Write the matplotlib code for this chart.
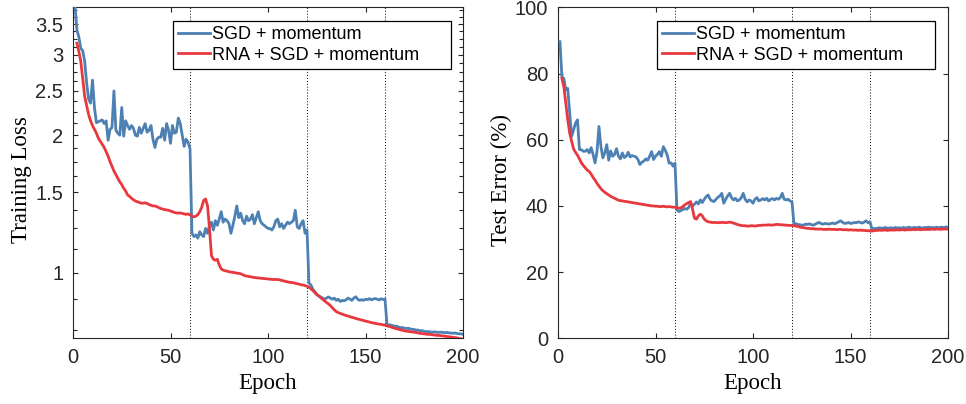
import matplotlib
matplotlib.use("Agg")
import matplotlib.pyplot as plt
from matplotlib.ticker import FixedLocator, NullFormatter, FixedFormatter

# ---------------- data ----------------
epochs_sgd = list(range(1, 201))
epochs_rna = list(range(2, 201))

train_loss_sgd = [
    3.85, 3.40, 3.28, 3.10, 3.06, 2.90, 2.60, 2.40, 2.35, 2.64,
    2.30, 2.13, 2.14, 2.15, 2.16, 2.12, 2.15, 1.95, 2.06, 2.08,
    2.50, 2.05, 2.02, 2.00, 2.30, 1.99, 2.15, 2.10, 2.06, 2.10,
    2.07, 2.00, 1.99, 2.08, 2.02, 2.07, 2.12, 2.03, 2.05, 2.10,
    1.96, 1.88, 1.96, 1.98, 1.98, 2.07, 1.95, 2.12, 2.05, 1.92,
    2.10, 2.02, 2.03, 2.18, 2.12, 2.00, 1.89, 1.96, 1.93, 1.87,
    1.22, 1.20, 1.21, 1.19, 1.23, 1.21, 1.20, 1.25, 1.22, 1.27,
    1.29, 1.24, 1.30, 1.27, 1.31, 1.36, 1.29, 1.31, 1.30, 1.28,
    1.22, 1.27, 1.33, 1.40, 1.32, 1.35, 1.30, 1.28, 1.33, 1.30,
    1.31, 1.34, 1.28, 1.32, 1.36, 1.30, 1.28, 1.27, 1.26, 1.25,
    1.25, 1.24, 1.26, 1.30, 1.31, 1.26, 1.28, 1.25, 1.27, 1.29,
    1.28, 1.29, 1.30, 1.37, 1.26, 1.25, 1.28, 1.30, 1.22, 1.24,
    0.950, 0.940, 0.920, 0.910, 0.895, 0.890, 0.885, 0.880, 0.875, 0.880,
    0.885, 0.880, 0.875, 0.880, 0.870, 0.875, 0.865, 0.870, 0.868, 0.872,
    0.880, 0.876, 0.870, 0.880, 0.886, 0.875, 0.870, 0.873, 0.870, 0.875,
    0.873, 0.878, 0.872, 0.876, 0.878, 0.875, 0.872, 0.877, 0.874, 0.876,
    0.771, 0.769, 0.768, 0.766, 0.763, 0.764, 0.760, 0.758, 0.759, 0.756,
    0.755, 0.756, 0.753, 0.752, 0.751, 0.749, 0.749, 0.746, 0.747, 0.744,
    0.743, 0.744, 0.742, 0.741, 0.742, 0.742, 0.740, 0.741, 0.741, 0.740,
    0.739, 0.740, 0.738, 0.738, 0.737, 0.738, 0.736, 0.735, 0.735, 0.733,
]

train_loss_rna = [
    3.18, 3.05, 2.90, 2.65, 2.43, 2.32, 2.22, 2.15, 2.10,
    2.06, 2.02, 1.97, 1.94, 1.91, 1.88, 1.84, 1.80, 1.75, 1.71,
    1.67, 1.64, 1.61, 1.58, 1.56, 1.53, 1.51, 1.48, 1.47, 1.455,
    1.445, 1.435, 1.43, 1.425, 1.42, 1.42, 1.422, 1.418, 1.41, 1.405,
    1.40, 1.40, 1.395, 1.388, 1.382, 1.378, 1.375, 1.372, 1.37, 1.365,
    1.36, 1.355, 1.352, 1.35, 1.352, 1.348, 1.345, 1.342, 1.345, 1.338,
    1.33, 1.325, 1.33, 1.34, 1.36, 1.39, 1.44, 1.45, 1.40, 1.25,
    1.09, 1.07, 1.065, 1.07, 1.04, 1.02, 1.013, 1.01, 1.008, 1.005,
    1.003, 1.002, 1.0, 0.998, 0.997, 0.995, 0.99, 0.986, 0.983, 0.982,
    0.98, 0.978, 0.976, 0.975, 0.974, 0.973, 0.972, 0.971, 0.970, 0.969,
    0.968, 0.967, 0.966, 0.967, 0.966, 0.965, 0.962, 0.960, 0.957, 0.955,
    0.953, 0.952, 0.951, 0.948, 0.946, 0.944, 0.941, 0.94, 0.937, 0.934,
    0.93, 0.922, 0.914, 0.905, 0.897, 0.89, 0.882, 0.875, 0.868, 0.861,
    0.855, 0.847, 0.838, 0.83, 0.822, 0.818, 0.815, 0.812, 0.809, 0.806,
    0.804, 0.801, 0.799, 0.797, 0.794, 0.792, 0.79, 0.788, 0.786, 0.784,
    0.782, 0.78, 0.778, 0.776, 0.775, 0.773, 0.772, 0.771, 0.769, 0.768,
    0.765, 0.763, 0.761, 0.758, 0.756, 0.754, 0.752, 0.75, 0.748, 0.746,
    0.745, 0.744, 0.743, 0.742, 0.741, 0.74, 0.738, 0.737, 0.736, 0.735,
    0.734, 0.733, 0.733, 0.732, 0.731, 0.73, 0.729, 0.729, 0.728, 0.727,
    0.726, 0.725, 0.724, 0.723, 0.722, 0.721, 0.72, 0.718, 0.717, 0.715,
]

test_err_sgd = [
    89.6, 79.0, 78.5, 75.0, 75.5, 68.0, 61.0, 63.0, 65.0, 66.0,
    57.0, 57.0, 56.5, 56.5, 57.0, 56.0, 57.6, 55.5, 53.0, 56.4,
    64.0, 58.0, 54.5, 56.0, 58.5, 53.8, 56.6, 55.0, 55.5, 57.3,
    55.0, 54.2, 56.0, 54.6, 55.0, 56.2, 54.8, 55.2, 55.0, 54.8,
    54.0, 52.5, 53.2, 53.5, 54.2, 53.8, 55.0, 56.4, 54.0, 55.0,
    55.6, 56.4, 55.0, 57.9, 56.8, 55.4, 52.9, 53.0, 52.0, 52.9,
    38.8, 38.3, 38.6, 38.9, 39.2, 39.0, 39.5, 40.8, 40.0, 40.5,
    41.2, 40.6, 41.8, 41.0, 42.0, 42.8, 43.3, 42.0, 41.5, 41.3,
    42.0, 42.6, 43.0, 43.8, 40.8, 42.0, 43.0, 43.8, 42.5, 41.8,
    42.3, 41.5, 41.8, 42.5, 43.8, 42.0, 41.2, 41.8, 41.5, 40.8,
    42.0, 42.5, 41.5, 41.8, 42.2, 41.8, 42.3, 41.5, 42.0, 42.2,
    41.8, 42.3, 42.0, 42.5, 43.8, 42.0, 41.8, 42.0, 41.5, 41.2,
    34.6, 34.6, 34.4, 34.3, 34.2, 34.2, 34.5, 34.4, 34.6, 34.3,
    34.2, 34.5, 34.8, 35.0, 34.6, 34.5, 34.7, 34.6, 34.5, 34.7,
    34.8, 34.6, 34.9, 35.2, 35.5, 35.0, 34.7, 34.8, 35.0, 34.7,
    34.8, 35.0, 34.9, 35.2, 35.0, 34.8, 35.1, 35.5, 34.9, 35.2,
    33.0, 33.2, 33.1, 33.3, 33.4, 33.2, 33.3, 33.5, 33.2, 33.3,
    33.4, 33.2, 33.5, 33.3, 33.4, 33.2, 33.5, 33.3, 33.4, 33.6,
    33.3, 33.4, 33.5, 33.3, 33.6, 33.4, 33.3, 33.5, 33.4, 33.6,
    33.4, 33.5, 33.3, 33.6, 33.4, 33.5, 33.6, 33.4, 33.7, 33.5,
]

test_err_rna = [
    78.5, 76.0, 71.0, 66.0, 62.0, 59.5, 57.2, 56.2, 55.3,
    54.2, 53.0, 52.2, 51.5, 50.8, 50.4, 49.6, 48.6, 47.8, 46.8,
    46.0, 45.2, 44.6, 44.1, 43.7, 43.3, 42.9, 42.6, 42.3, 42.0,
    41.7, 41.6, 41.5, 41.4, 41.3, 41.2, 41.1, 41.0, 40.9, 40.8,
    40.7, 40.6, 40.5, 40.4, 40.3, 40.2, 40.1, 40.0, 40.0, 39.9,
    39.9, 39.8, 39.8, 39.9, 39.8, 39.7, 39.8, 39.7, 39.6, 39.6,
    39.5, 39.3, 39.4, 39.8, 40.3, 40.7, 41.0, 41.3, 39.0, 36.3,
    36.0, 37.0, 37.5, 37.0, 36.0, 35.5, 35.2, 35.1, 35.0, 35.0,
    35.0, 34.9, 35.0, 35.0, 35.0, 34.9, 35.0, 35.1, 35.0, 34.8,
    34.6, 34.4, 34.2, 34.1, 34.0, 34.0, 33.9, 33.9, 34.0, 34.0,
    33.9, 34.0, 34.1, 34.1, 34.2, 34.2, 34.2, 34.3, 34.2, 34.2,
    34.3, 34.4, 34.4, 34.3, 34.3, 34.2, 34.2, 34.1, 34.1, 34.1,
    34.0, 33.9, 33.8, 33.6, 33.5, 33.4, 33.3, 33.2, 33.2, 33.1,
    33.1, 33.0, 33.0, 33.0, 33.0, 32.9, 32.9, 32.9, 33.0, 32.9,
    32.9, 32.9, 32.8, 32.9, 32.9, 32.8, 32.8, 32.8, 32.7, 32.8,
    32.7, 32.7, 32.7, 32.6, 32.7, 32.6, 32.6, 32.5, 32.5, 32.5,
    32.4, 32.5, 32.6, 32.6, 32.7, 32.6, 32.7, 32.7, 32.6, 32.7,
    32.7, 32.7, 32.7, 32.8, 32.7, 32.8, 32.8, 32.7, 32.8, 32.8,
    32.8, 32.9, 32.8, 32.9, 32.9, 32.8, 32.9, 32.9, 32.9, 32.9,
    32.9, 33.0, 32.9, 33.0, 33.0, 32.9, 33.0, 33.0, 33.0, 33.0,
]

labels = ["SGD + momentum", "RNA + SGD + momentum"]
lr_drops = [60, 120, 160]
loss_ticks = [1, 1.5, 2, 2.5, 3, 3.5]
loss_tick_labels = ["1", "1.5", "2", "2.5", "3", "3.5"]
err_ticks = [0, 20, 40, 60, 80, 100]
epoch_ticks = [0, 50, 100, 150, 200]

# ---------------- styling ----------------
BLUE = "#4d80b3"
RED = "#e8383d"
AX_COL = "#262626"
SANS = ["Liberation Sans", "DejaVu Sans"]
SERIF = ["Liberation Serif", "DejaVu Serif"]

plt.rcParams["font.family"] = SANS

fig = plt.figure(figsize=(9.66, 4.04), dpi=100)
W, H = 966.0, 404.0
ax1 = fig.add_axes([73 / W, (H - 338.3) / H, 390 / W, 331 / H])
ax2 = fig.add_axes([558 / W, (H - 338.3) / H, 390 / W, 331 / H])


def style_axes(ax):
    for s in ax.spines.values():
        s.set_color(AX_COL)
        s.set_linewidth(0.8)
    ax.tick_params(which="both", direction="in", top=True, right=True,
                   color=AX_COL, labelcolor=AX_COL, labelsize=14.5,
                   width=0.8, pad=7)
    ax.tick_params(which="major", length=3.5)
    ax.tick_params(which="minor", length=3.0)
    ax.set_xlim(0, 200)
    ax.set_xticks(epoch_ticks)
    ax.set_xticklabels([str(t) for t in epoch_ticks])
    for x in lr_drops:
        ax.axvline(x, color="black", linestyle=(0, (1, 2)), linewidth=0.7, zorder=1)
    ax.set_xlabel("Epoch", family=SERIF, fontsize=16.5, labelpad=4.5, color="black")


# Left: training loss (log scale)
ax1.plot(epochs_sgd, train_loss_sgd, color=BLUE, lw=2.0, label=labels[0], zorder=3)
ax1.plot(epochs_rna, train_loss_rna, color=RED, lw=2.0, label=labels[1], zorder=3)
ax1.set_yscale("log")
ax1.set_ylim(0.7186, 3.81)
style_axes(ax1)
ax1.yaxis.set_major_locator(FixedLocator(loss_ticks))
ax1.yaxis.set_major_formatter(FixedFormatter(loss_tick_labels))
minor = [0.75 + 0.125 * i for i in range(25)]
minor = [m for m in minor if all(abs(m - t) > 1e-6 for t in loss_ticks)]
ax1.yaxis.set_minor_locator(FixedLocator(minor))
ax1.yaxis.set_minor_formatter(NullFormatter())
ax1.set_ylabel("Training Loss", family=SERIF, fontsize=16.5, labelpad=2, color="black")

# Right: test error
ax2.plot(epochs_sgd, test_err_sgd, color=BLUE, lw=2.0, label=labels[0], zorder=3)
ax2.plot(epochs_rna, test_err_rna, color=RED, lw=2.0, label=labels[1], zorder=3)
ax2.set_ylim(0, 100)
style_axes(ax2)
ax2.set_yticks(err_ticks)
ax2.set_yticklabels([str(t) for t in err_ticks])
ax2.set_ylabel("Test Error (%)", family=SERIF, fontsize=16.5, labelpad=2, color="black")

for ax in (ax1, ax2):
    ax.yaxis.label.set_y(0.479)

legend_boxes = {ax1: (0.2556, 0.8106, 0.7129, 0.1489),
                ax2: (0.2531, 0.8106, 0.7136, 0.1489)}
for ax in (ax1, ax2):
    leg = ax.legend(loc="upper left", bbox_to_anchor=legend_boxes[ax], mode="expand",
                    borderaxespad=0, fontsize=13, frameon=True, fancybox=False,
                    framealpha=1, edgecolor="black", handlelength=1.75,
                    handletextpad=0.15, labelspacing=0.2, borderpad=0.3)
    leg.get_frame().set_linewidth(0.9)
    for t in leg.get_texts():
        t.set_color("black")

fig.savefig("out.png", dpi=100)
